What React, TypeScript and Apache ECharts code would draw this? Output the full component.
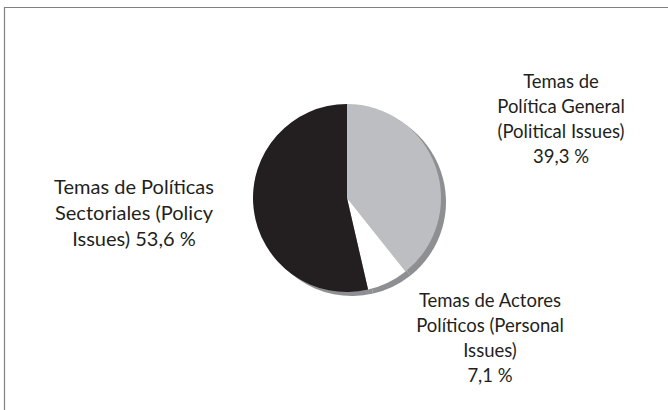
import React, { useEffect, useRef } from "react";
import * as echarts from "echarts";

const categories = [
  "Temas de\nPolítica General\n(Political Issues)",
  "Temas de Actores\nPolíticos (Personal\nIssues)",
  "Temas de Políticas\nSectoriales (Policy\nIssues)",
];
const values = [39.3, 7.1, 53.6];
const valueSeparators = ["\n", "\n", " "];
const colors = ["#bdbec1", "#ffffff", "#231f20"];

const labelPos = [
  { x: 561, y: 68 },
  { x: 490, y: 287 },
  { x: 134, y: 173 },
];
const labelSizes = [18.5, 18.5, 20];
const labelLineHeights = [25, 25, 26];

const CX = 347;
const CY = 198;
const R = 94;

export default function App() {
  const ref = useRef<HTMLDivElement>(null);
  useEffect(() => {
    if (!ref.current) return;
    const chart = echarts.init(ref.current, undefined, { renderer: "svg" });
    const fmt = (v: number) => v.toFixed(1).replace(".", ",") + " %";
    chart.setOption({
      animation: false,
      backgroundColor: "#ffffff",
      graphic: [
        { type: "line", shape: { x1: 4, y1: 7.5, x2: 668, y2: 7.5 }, style: { stroke: "#808080", lineWidth: 1.2 }, silent: true },
        { type: "line", shape: { x1: 4.5, y1: 7, x2: 4.5, y2: 410 }, style: { stroke: "#808080", lineWidth: 1.2 }, silent: true },
      ],
      series: [
        {
          type: "pie",
          silent: true,
          z: 1,
          center: [CX + 5, CY + 4],
          radius: R,
          startAngle: 90,
          clockwise: true,
          label: { show: false },
          labelLine: { show: false },
          itemStyle: { color: "#8e8f92", borderWidth: 0 },
          data: values.map((v, i) => ({ name: "s" + i, value: v })),
        },
        {
          type: "pie",
          z: 2,
          center: [CX, CY],
          radius: R,
          startAngle: 90,
          clockwise: true,
          data: values.map((v, i) => ({
            name: categories[i],
            value: v,
            itemStyle: { color: colors[i] },
            label: { fontSize: labelSizes[i], lineHeight: labelLineHeights[i] },
          })),
          itemStyle: { borderWidth: 0 },
          label: {
            show: true,
            formatter: (p: any) => p.name + valueSeparators[p.dataIndex] + fmt(p.value),
            fontFamily: "Lato, 'Open Sans', sans-serif",
            fontSize: 18,
            lineHeight: 25,
            color: "#231f20",
            align: "center",
          },
          labelLine: { show: false },
          labelLayout: (params: any) => ({
            x: labelPos[params.dataIndex].x,
            y: labelPos[params.dataIndex].y,
            align: "center",
            verticalAlign: "top",
          }),
        },
      ],
    });
    return () => chart.dispose();
  }, []);
  return (
    <div
      ref={ref}
      style={{ position: "fixed", left: 0, top: 0, width: 668, height: 410 }}
    />
  );
}
